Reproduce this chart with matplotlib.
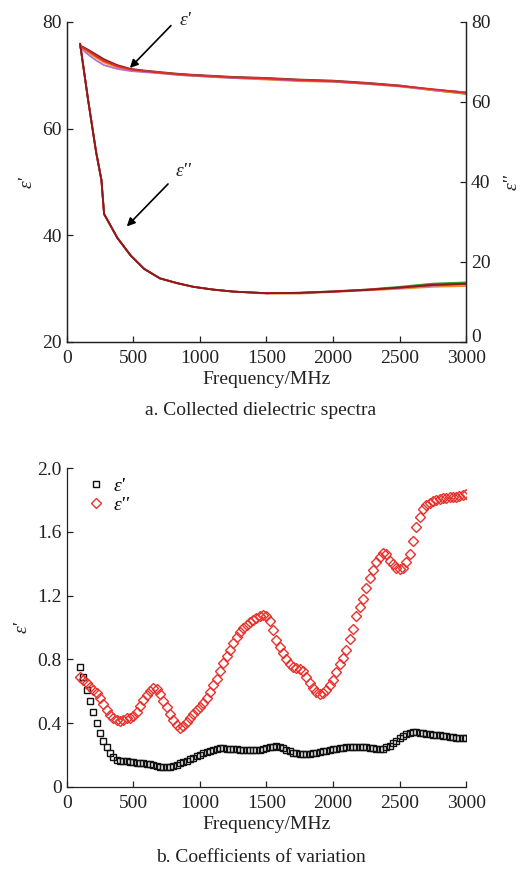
import numpy as np
import matplotlib
matplotlib.use("Agg")
import matplotlib.pyplot as plt

plt.rcParams["font.family"] = ["Liberation Serif", "DejaVu Serif"]
plt.rcParams["font.size"] = 14

# ---------------------------------------------------------------- panel a data
F_TOP = [100, 160, 220, 260, 280, 380, 480, 580, 700, 830, 950, 1100, 1250,
         1500, 1750, 2000, 2250, 2500, 2750, 3000]

# real part (left axis), one list per collected spectrum
EPS1_A = [75.6, 74.8, 73.9, 73.3, 73.0, 71.9, 71.2, 70.9, 70.6, 70.3, 70.1, 69.9, 69.7, 69.5, 69.2, 69.0, 68.6, 68.1, 67.3, 66.8]
EPS1_B = [75.4, 74.5, 73.5, 72.9, 72.6, 71.6, 71.0, 70.8, 70.5, 70.2, 70.0, 69.8, 69.6, 69.4, 69.1, 68.9, 68.5, 68.0, 67.2, 66.5]
EPS1_C = [75.3, 74.3, 73.3, 72.7, 72.4, 71.5, 71.0, 70.7, 70.4, 70.1, 69.9, 69.7, 69.5, 69.2, 68.9, 68.8, 68.4, 67.9, 67.2, 66.6]
EPS1_D = [75.2, 73.9, 72.8, 72.2, 71.9, 71.2, 70.8, 70.6, 70.4, 70.1, 69.9, 69.7, 69.5, 69.3, 69.0, 68.8, 68.4, 68.0, 67.3, 66.8]
EPS1_E = [75.5, 74.6, 73.6, 73.0, 72.7, 71.7, 71.1, 70.8, 70.5, 70.2, 70.0, 69.8, 69.6, 69.4, 69.1, 68.9, 68.5, 68.0, 67.4, 66.7]

# imaginary part (right axis)
EPS2_A = [74.5, 60.5, 47.5, 40.5, 32.0, 26.0, 21.6, 18.3, 15.9, 14.7, 13.8, 13.1, 12.6, 12.2, 12.3, 12.6, 13.0, 13.6, 14.3, 14.6]
EPS2_B = [74.4, 60.4, 47.4, 40.4, 31.9, 26.0, 21.6, 18.3, 15.9, 14.7, 13.8, 13.1, 12.6, 12.2, 12.3, 12.7, 13.1, 13.8, 14.6, 14.9]
EPS2_C = [74.6, 60.6, 47.6, 40.6, 32.1, 26.1, 21.7, 18.3, 15.9, 14.7, 13.8, 13.1, 12.6, 12.1, 12.1, 12.5, 12.9, 13.3, 13.8, 14.0]
EPS2_D = [74.5, 60.5, 47.5, 40.5, 32.0, 26.0, 21.6, 18.3, 15.9, 14.7, 13.8, 13.1, 12.6, 12.2, 12.2, 12.6, 13.0, 13.5, 14.1, 14.4]
EPS2_E = [74.5, 60.5, 47.5, 40.5, 32.0, 26.0, 21.6, 18.3, 15.9, 14.7, 13.8, 13.1, 12.6, 12.2, 12.3, 12.6, 13.1, 13.6, 14.2, 14.5]

SPEC_COLORS = ["#8b1a1a", "#3f9a3a", "#f08a24", "#b474c4", "#e02828"]

# ---------------------------------------------------------------- panel b data
F_CV = np.arange(100, 3001, 25)

CV_REAL = [
    0.75, 0.69, 0.61, 0.54, 0.47, 0.40, 0.34, 0.29, 0.25, 0.21,
    0.185, 0.17, 0.165, 0.162, 0.16, 0.157, 0.155, 0.153, 0.15, 0.148,
    0.145, 0.142, 0.138, 0.133, 0.128, 0.125, 0.123, 0.126, 0.132, 0.14,
    0.148, 0.157, 0.166, 0.175, 0.184, 0.193, 0.202, 0.211, 0.22, 0.228,
    0.235, 0.24, 0.243, 0.243, 0.241, 0.239, 0.238, 0.236, 0.234, 0.233,
    0.232, 0.232, 0.232, 0.232, 0.233, 0.238, 0.244, 0.249, 0.253, 0.254,
    0.25, 0.242, 0.232, 0.223, 0.215, 0.21, 0.207, 0.206, 0.207, 0.208,
    0.21, 0.214, 0.218, 0.223, 0.228, 0.232, 0.236, 0.239, 0.242, 0.245,
    0.248, 0.251, 0.253, 0.253, 0.252, 0.251, 0.25, 0.247, 0.243, 0.239,
    0.238, 0.24, 0.248, 0.26, 0.274, 0.29, 0.305, 0.318, 0.33, 0.337,
    0.342, 0.343, 0.341, 0.337, 0.333, 0.33, 0.328, 0.327, 0.325, 0.322,
    0.318, 0.314, 0.311, 0.31, 0.31, 0.31, 0.31,
]

CV_IMAG = [
    0.69, 0.67, 0.65, 0.63, 0.61, 0.59, 0.56, 0.52, 0.48, 0.45,
    0.43, 0.42, 0.415, 0.42, 0.43, 0.435, 0.445, 0.47, 0.51, 0.545,
    0.575, 0.6, 0.62, 0.615, 0.58, 0.54, 0.5, 0.46, 0.42, 0.39,
    0.37, 0.38, 0.41, 0.435, 0.46, 0.48, 0.5, 0.525, 0.555, 0.595,
    0.64, 0.68, 0.725, 0.775, 0.82, 0.86, 0.9, 0.94, 0.97, 0.995,
    1.015, 1.035, 1.05, 1.06, 1.07, 1.08, 1.07, 1.04, 0.985, 0.92,
    0.88, 0.84, 0.8, 0.77, 0.755, 0.745, 0.74, 0.725, 0.69, 0.65,
    0.62, 0.595, 0.585, 0.59, 0.605, 0.64, 0.67, 0.72, 0.77, 0.81,
    0.86, 0.93, 0.99, 1.07, 1.13, 1.18, 1.25, 1.31, 1.36, 1.41,
    1.445, 1.47, 1.46, 1.42, 1.395, 1.37, 1.365, 1.375, 1.41, 1.46,
    1.54, 1.63, 1.69, 1.74, 1.765, 1.78, 1.79, 1.8, 1.805, 1.81,
    1.815, 1.82, 1.82, 1.82, 1.825, 1.83, 1.84,
]

INK = "#222222"


def _ticks(ax):
    ax.tick_params(direction="in", length=4, width=0.9, colors=INK, labelsize=14)
    ax.tick_params(axis="x", pad=6)
    for s in ax.spines.values():
        s.set_linewidth(0.9)
        s.set_color(INK)


fig = plt.figure(figsize=(5.22, 8.72), dpi=100, facecolor="white")

# --- a. collected dielectric spectra
ax = fig.add_axes([0.128, 0.6078, 0.765, 0.367])
ax2 = ax.twinx()
for ys, c in zip([EPS1_A, EPS1_B, EPS1_C, EPS1_D, EPS1_E], SPEC_COLORS):
    ax.plot(F_TOP, ys, color=c, lw=1.3)
for ys, c in zip([EPS2_C, EPS2_B, EPS2_D, EPS2_E, EPS2_A], ["#f08a24", "#3f9a3a", "#b474c4", "#e02828", "#8b1a1a"]):
    ax2.plot(F_TOP, ys, color=c, lw=1.3)

ax.set_xlim(0, 3000)
ax.set_ylim(20, 80)
ax.set_yticks([20, 40, 60, 80])
ax.set_xticks(range(0, 3001, 500))
ax2.set_ylim(0, 80)
ax2.set_yticks([0, 20, 40, 60, 80])
for a in (ax, ax2):
    a.spines["top"].set_visible(False)
    _ticks(a)
# lift the right-hand "0" a little so it clears the "3000" below it
ax2.get_yticklabels()[0].set_va("baseline")
ax.set_xlabel("Frequency/MHz", color=INK, labelpad=3)
ax.set_ylabel("ε'", style="italic", color=INK, labelpad=5)
ax2.set_ylabel("ε''", style="italic", color=INK, labelpad=9)

ax.annotate("", xy=(459, 71.0), xytext=(797, 79.7),
            arrowprops=dict(arrowstyle="-|>", color="black", lw=1.2, mutation_scale=12),
            annotation_clip=False)
ax.text(850, 80.3, "ε'", style="italic", fontsize=14, color=INK, va="center", ha="left")
ax.annotate("", xy=(436, 41.3), xytext=(775, 50.0),
            arrowprops=dict(arrowstyle="-|>", color="black", lw=1.2, mutation_scale=12))
ax.text(820, 52.0, "ε''", style="italic", fontsize=14, color=INK, va="center", ha="left")

fig.text(0.5, 1 - 410 / 872, "a. Collected dielectric spectra", ha="center",
         va="center", fontsize=14, color=INK)

# --- b. coefficients of variation
bx = fig.add_axes([0.128, 0.0975, 0.765, 0.3658])
assert len(CV_REAL) == len(F_CV) and len(CV_IMAG) == len(F_CV)
bx.plot(F_CV, CV_REAL, ls="none", marker="s", ms=5, mfc="none", mec="#111111",
        mew=1.0, label="ε'")
bx.plot(F_CV, CV_IMAG, ls="none", marker="D", ms=5, mfc="none", mec="#e8312c",
        mew=1.0, label="ε''")
bx.set_xlim(0, 3000)
bx.set_ylim(0, 2.0)
bx.set_xticks(range(0, 3001, 500))
bx.set_yticks([0, 0.4, 0.8, 1.2, 1.6, 2.0])
bx.set_yticklabels(["0", "0.4", "0.8", "1.2", "1.6", "2.0"])
bx.spines["top"].set_visible(False)
bx.spines["right"].set_visible(False)
_ticks(bx)
bx.set_xlabel("Frequency/MHz", color=INK, labelpad=3)
bx.set_ylabel("ε'", style="italic", color=INK, labelpad=5)
leg = bx.legend(loc="upper left", bbox_to_anchor=(0.01, 1.025), frameon=False,
                fontsize=14, handlelength=0.8, handletextpad=0.5, labelspacing=0.05)
for t in leg.get_texts():
    t.set_style("italic")

fig.text(0.5, 1 - 857 / 872, "b. Coefficients of variation", ha="center",
         va="center", fontsize=14, color=INK)

fig.savefig("out.png", dpi=100, facecolor="white")
